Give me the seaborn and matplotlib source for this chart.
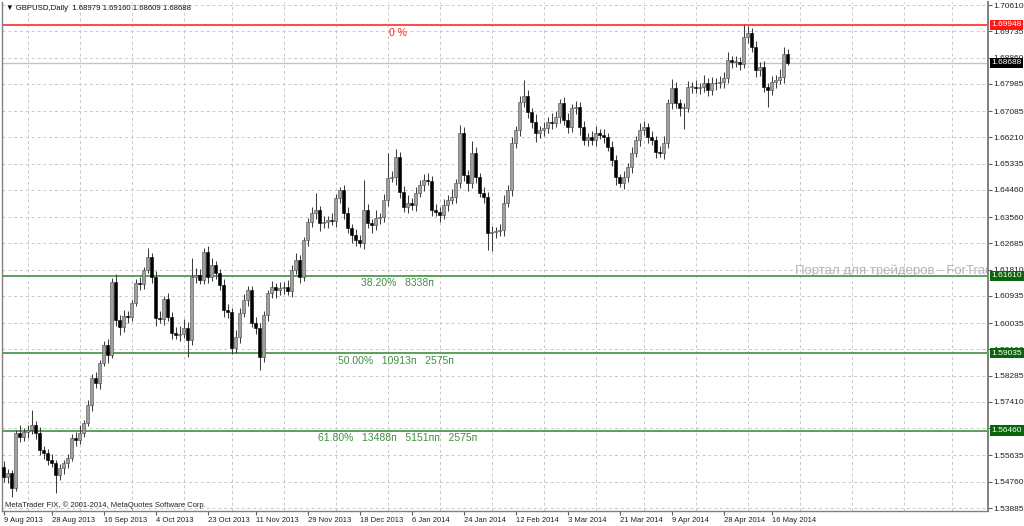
import matplotlib
matplotlib.use('Agg')
import matplotlib.pyplot as plt
import matplotlib.transforms as mtransforms
import seaborn as sns
import numpy as np
import pandas as pd

# GBPUSD daily closes (one per bar, Aug 2013 - May 2014)
closes = [
    1.5491, 1.5505, 1.5455, 1.5638, 1.5624, 1.5641, 1.5648, 1.5664, 1.5638, 1.5581,
    1.5571, 1.5548, 1.5538, 1.5498, 1.5521, 1.5538, 1.5555, 1.5621, 1.5615, 1.5638,
    1.5671, 1.5731, 1.5821, 1.5804, 1.5871, 1.5930, 1.5897, 1.6140, 1.6014, 1.5990,
    1.6027, 1.6024, 1.6070, 1.6137, 1.6132, 1.6180, 1.6223, 1.6157, 1.6020, 1.6018,
    1.6083, 1.6024, 1.5970, 1.5964, 1.5968, 1.5987, 1.5947, 1.6157, 1.6163, 1.6147,
    1.6240, 1.6157, 1.6196, 1.6170, 1.6130, 1.6047, 1.6040, 1.5920, 1.5957, 1.6037,
    1.6080, 1.6113, 1.6004, 1.5987, 1.5890, 1.6030, 1.6103, 1.6123, 1.6113, 1.6121,
    1.6125, 1.6111, 1.6180, 1.6213, 1.6157, 1.6280, 1.6339, 1.6369, 1.6379, 1.6336,
    1.6339, 1.6346, 1.6344, 1.6419, 1.6446, 1.6369, 1.6319, 1.6296, 1.6280, 1.6270,
    1.6379, 1.6336, 1.6329, 1.6353, 1.6356, 1.6413, 1.6486, 1.6489, 1.6556, 1.6439,
    1.6389, 1.6403, 1.6396, 1.6436, 1.6463, 1.6479, 1.6476, 1.6379, 1.6373, 1.6363,
    1.6396, 1.6413, 1.6423, 1.6469, 1.6635, 1.6496, 1.6469, 1.6569, 1.6489, 1.6436,
    1.6423, 1.6303, 1.6306, 1.6308, 1.6313, 1.6403, 1.6446, 1.6602, 1.6645, 1.6738,
    1.6758, 1.6705, 1.6672, 1.6635, 1.6645, 1.6652, 1.6672, 1.6669, 1.6689, 1.6735,
    1.6678, 1.6655, 1.6718, 1.6722, 1.6655, 1.6612, 1.6622, 1.6612, 1.6635, 1.6629,
    1.6622, 1.6589, 1.6546, 1.6489, 1.6469, 1.6489, 1.6522, 1.6569, 1.6612, 1.6645,
    1.6655, 1.6622, 1.6612, 1.6572, 1.6569, 1.6602, 1.6735, 1.6785, 1.6735, 1.6718,
    1.6720, 1.6788, 1.6790, 1.6785, 1.6787, 1.6802, 1.6778, 1.6802, 1.6800, 1.6805,
    1.6818, 1.6878, 1.6871, 1.6873, 1.6865, 1.6955, 1.6968, 1.6921, 1.6845, 1.6855,
    1.6788, 1.6778, 1.6805, 1.6812, 1.6822, 1.68979, 1.68688,
]
first_open = 1.5525

# wick lengths above / below the body, in pips
upper_wick_pips = [
    20, 12, 10, 10, 25, 15, 18, 50, 15, 20,
    12, 15, 20, 10, 15, 10, 12, 15, 20, 25,
    10, 15, 12, 20, 10, 15, 20, 13, 25, 15,
    20, 15, 10, 12, 20, 10, 30, 15, 20, 25,
    12, 20, 15, 20, 25, 30, 20, 63, 25, 20,
    13, 20, 25, 15, 12, 20, 20, 15, 25, 15,
    20, 15, 15, 20, 15, 15, 10, 20, 15, 20,
    15, 20, 15, 25, 17, 10, 15, 20, 57, 15,
    20, 15, 25, 15, 10, 15, 20, 15, 20, 15,
    100, 20, 15, 25, 15, 20, 83, 20, 25, 15,
    20, 25, 15, 20, 15, 20, 25, 15, 20, 15,
    20, 15, 25, 15, 27, 20, 15, 40, 20, 15,
    20, 15, 20, 15, 20, 25, 15, 20, 15, 20,
    54, 20, 15, 25, 15, 20, 15, 30, 20, 15,
    20, 25, 15, 20, 15, 20, 15, 20, 25, 15,
    20, 15, 20, 15, 10, 20, 15, 20, 15, 25,
    20, 15, 20, 15, 20, 25, 15, 30, 20, 15,
    15, 20, 15, 20, 15, 25, 15, 20, 15, 20,
    20, 27, 15, 20, 15, 40, 22, 15, 20, 15,
    20, 15, 20, 15, 25, 23, 18,
]
lower_wick_pips = [
    15, 20, 30, 10, 15, 12, 20, 15, 20, 15,
    20, 15, 12, 60, 15, 20, 15, 10, 20, 15,
    15, 10, 20, 15, 20, 12, 25, 10, 20, 25,
    15, 20, 15, 10, 20, 15, 10, 20, 25, 15,
    20, 15, 20, 15, 20, 15, 57, 15, 20, 15,
    15, 20, 15, 20, 15, 25, 20, 20, 15, 20,
    15, 20, 15, 20, 43, 15, 20, 15, 25, 15,
    20, 15, 20, 15, 20, 15, 20, 15, 20, 25,
    15, 20, 15, 20, 15, 20, 15, 25, 20, 15,
    20, 15, 25, 15, 20, 15, 20, 15, 25, 20,
    15, 20, 15, 20, 15, 20, 15, 20, 15, 25,
    15, 20, 15, 20, 15, 20, 25, 15, 20, 15,
    20, 57, 60, 20, 15, 20, 15, 20, 15, 20,
    15, 20, 20, 30, 15, 20, 15, 20, 15, 20,
    15, 20, 15, 20, 25, 15, 20, 15, 20, 15,
    20, 15, 20, 25, 13, 20, 15, 20, 15, 20,
    15, 20, 15, 20, 15, 20, 15, 20, 15, 25,
    68, 15, 20, 15, 20, 15, 20, 15, 20, 15,
    20, 15, 20, 15, 20, 15, 20, 15, 25, 20,
    15, 56, 15, 20, 15, 20, 8,
]

date_ticks = [0, 12, 25, 38, 51, 63, 76, 89, 102, 115, 128, 141, 154, 167, 180, 192]
date_labels = ["9 Aug 2013", "28 Aug 2013", "16 Sep 2013", "4 Oct 2013", "23 Oct 2013",
               "11 Nov 2013", "29 Nov 2013", "18 Dec 2013", "6 Jan 2014", "24 Jan 2014",
               "12 Feb 2014", "3 Mar 2014", "21 Mar 2014", "9 Apr 2014", "28 Apr 2014",
               "16 May 2014"]
grid_bars = [6, 19, 32, 45, 57, 70, 83, 96, 109, 122, 135, 148, 160, 173, 186, 199, 212, 225, 237]
price_ticks = [1.70610, 1.69735, 1.68860, 1.67985, 1.67085, 1.66210, 1.65335, 1.64460,
               1.63560, 1.62685, 1.61810, 1.60935, 1.60035, 1.59160, 1.58285, 1.57410,
               1.56535, 1.55635, 1.54760, 1.53885]

fib_levels = [1.69948, 1.61610, 1.59035, 1.56460]
fib_texts = ["0 %", "38.20%   8338п", "50.00%   10913п   2575п",
             "61.80%   13488п   5151пп   2575п"]
fib_text_bar = [96.4, 89.3, 83.6, 78.6]
bid_price = 1.68688

# build OHLC table
df = pd.DataFrame({"close": closes})
df["open"] = [first_open] + closes[:-1]
df["high"] = df[["open", "close"]].max(axis=1) + np.array(upper_wick_pips) * 1e-4
df["low"] = df[["open", "close"]].min(axis=1) - np.array(lower_wick_pips) * 1e-4
df["bar"] = np.arange(len(df))
bull = df[df["close"] >= df["open"]]
bear = df[df["close"] < df["open"]]

sns.set_theme(style="white")
plt.rcParams['font.family'] = ['Liberation Sans', 'DejaVu Sans']

fig = plt.figure(figsize=(10.24, 5.26), dpi=100)
ax = fig.add_axes([2 / 1024, 15 / 526, 986 / 1024, 509 / 526])

# candles
ax.vlines(df["bar"], df["low"], df["high"], color="#3c3c3c", lw=0.75, zorder=3)
body_min = 0.00025
ax.bar(bull["bar"], np.maximum(bull["close"] - bull["open"], body_min), bottom=bull["open"],
       width=0.72, color="#a0a0a0", edgecolor="#4a4a4a", linewidth=0.4, zorder=4)
ax.bar(bear["bar"], np.maximum(bear["open"] - bear["close"], body_min), bottom=bear["close"],
       width=0.72, color="#000000", edgecolor="#000000", linewidth=0.4, zorder=4)

# fibonacci levels and bid line
ax.axhline(bid_price, color="#c4c4c4", lw=1.0, zorder=2)
fib_line_colors = ["#ff4a4a", "#5c9e5c", "#5c9e5c", "#5c9e5c"]
fib_text_colors = ["#ff2020", "#3f8f3f", "#3f8f3f", "#3f8f3f"]
for lvl, txt, xb, lc, tc in zip(fib_levels, fib_texts, fib_text_bar, fib_line_colors, fib_text_colors):
    ax.axhline(lvl, color=lc, lw=1.4, zorder=2)
    ax.text(xb, lvl - 0.0009, txt, color=tc, fontsize=7.5, ha="left", va="top", zorder=5)

ax.text(197.9, 1.6177, "Портал для трейдеров - ForTrader.ru", color="#b4b4b4",
        fontsize=9.5, ha="left", va="center", clip_on=True, zorder=1)

# axes limits / ticks
ax.set_xlim(-0.375, 246.1)
ax.set_ylim(1.537853, 1.707098)
ax.yaxis.tick_right()
ax.set_yticks(price_ticks)
ax.set_yticklabels([f"{p:.5f}" for p in price_ticks])
ax.set_xticks(date_ticks)
ax.set_xticklabels(date_labels)
for lab in ax.get_xticklabels():
    lab.set_ha("left")
ax.set_xticks(grid_bars, minor=True)
ax.tick_params(axis="y", which="major", right=True, length=3, width=0.8, color="#606060",
               labelsize=6.0, pad=1.0, labelcolor="#202020")
ax.tick_params(axis="x", which="major", bottom=True, length=3, width=0.8, color="#606060",
               labelsize=5.5, pad=1.5, labelcolor="#202020")
ax.tick_params(axis="x", which="minor", bottom=False, length=0)
ax.grid(False)
for p in price_ticks:
    ax.axhline(p, color="#c8c8c8", lw=0.7, ls=(0, (3, 3)), zorder=0)
ax.grid(True, which="minor", axis="x", color="#c8c8c8", lw=0.7, ls=(0, (3, 3)))
ax.set_axisbelow(True)

ax.spines["top"].set_visible(False)
for side in ["left", "right", "bottom"]:
    ax.spines[side].set_color("#808080")
    ax.spines[side].set_linewidth(1.0)
ax.spines["right"].set_linewidth(1.4)

# price boxes on the right axis
trans = mtransforms.blended_transform_factory(ax.transAxes, ax.transData)
box_prices = [1.69948, bid_price, 1.61610, 1.59035, 1.56460]
box_colors = ["#ff1a1a", "#000000", "#0a640a", "#0a640a", "#0a640a"]
for bp, bc in zip(box_prices, box_colors):
    ax.text(1.0035, bp, f"{bp:.5f}", transform=trans, color="white", fontsize=6.0,
            ha="left", va="center", zorder=10,
            bbox=dict(boxstyle="square,pad=0.2", fc=bc, ec="none"))

fig.text(6 / 1024, 1 - 9 / 526, "▼ GBPUSD,Daily  1.68979 1.69160 1.68609 1.68688",
         fontsize=5.6, ha="left", va="center", color="#101010",
         family=['Liberation Sans', 'DejaVu Sans'])
fig.text(5 / 1024, 1 - 505 / 526, "MetaTrader FIX, © 2001-2014, MetaQuotes Software Corp.",
         fontsize=5.5, ha="left", va="center", color="#202020")

fig.savefig("out.png", dpi=100)
plt.close(fig)
